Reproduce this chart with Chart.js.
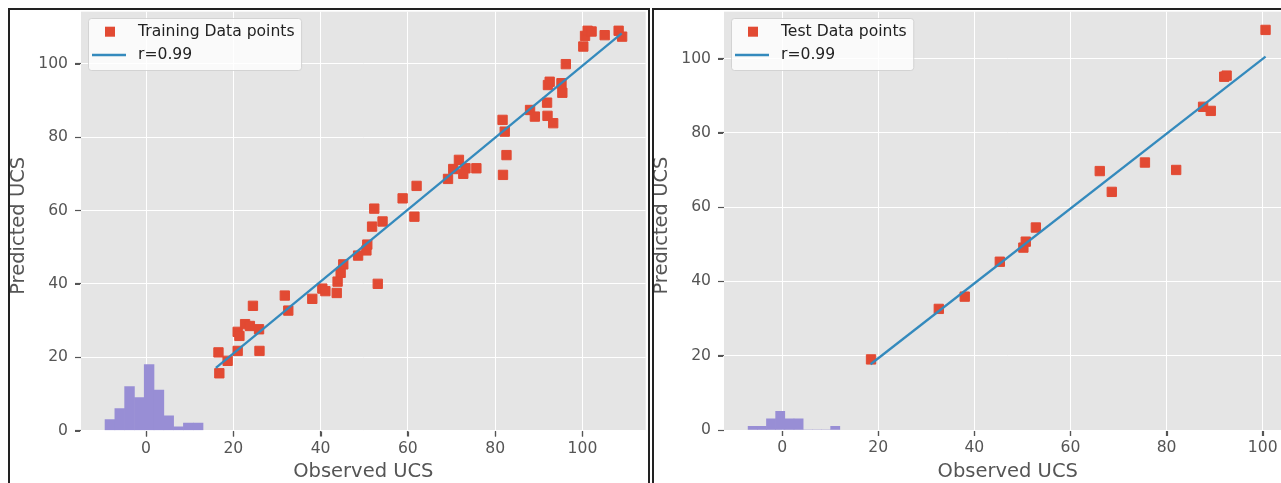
<!DOCTYPE html>
<html><head><meta charset="utf-8">
<script src="https://cdn.jsdelivr.net/npm/chart.js@4/dist/chart.umd.min.js"></script>
<style>
html,body{margin:0;padding:0;background:#fff;overflow:hidden;width:1281px;height:483px;}
.panel{position:absolute;box-sizing:border-box;border:2px solid #222;}
canvas{position:absolute;}
</style></head><body>
<div class="panel" style="left:8px;top:8px;width:642px;height:520px"></div>
<div class="panel" style="left:652px;top:8px;width:700px;height:520px"></div>
<canvas id="c1" width="638" height="473" style="left:10px;top:10px"></canvas>
<canvas id="c2" width="645" height="473" style="left:654px;top:10px"></canvas>
<script>
const xTickValues = [0, 20, 40, 60, 80, 100];
const yTickValues = [0, 20, 40, 60, 80, 100];
const xAxisLabel = 'Observed UCS';
const yAxisLabel = 'Predicted UCS';

// ---- Training panel ----
const trainPointsLabel = 'Training Data points';
const trainFitLabel = 'r=0.99';
const trainObserved = [16.8, 16.6, 18.7, 21.0, 21.0, 21.4, 22.7, 23.8, 25.9, 24.5, 26.0, 31.8, 32.6, 38.1, 40.4, 41.1, 43.7, 43.9, 44.6, 45.2,
  48.6, 50.5, 50.7, 53.1, 51.8, 54.2, 52.3, 58.8, 62.0, 61.5, 69.2, 70.4, 71.7, 73.2, 72.7, 75.7, 81.8, 82.6, 82.2, 81.7,
  88.0, 89.1, 91.9, 92.0, 93.3, 92.5, 92.1, 95.2, 95.4, 96.2, 100.2, 100.6, 101.2, 102.1, 105.1, 108.3, 109.1];
const trainPredicted = [15.6, 21.3, 19.0, 21.7, 26.9, 25.8, 29.0, 28.5, 27.6, 34.0, 21.7, 36.8, 32.7, 35.9, 38.7, 38.0, 37.5, 40.6, 43.0, 45.3,
  47.7, 49.1, 50.7, 40.0, 55.6, 57.0, 60.5, 63.3, 66.7, 58.3, 68.6, 71.3, 73.8, 71.5, 70.0, 71.5, 69.7, 75.1, 81.5, 84.7,
  87.4, 85.6, 89.4, 85.8, 83.8, 95.1, 94.2, 94.7, 92.1, 99.9, 104.7, 107.6, 109.0, 108.8, 107.8, 109.0, 107.4];
const trainFitObserved = [16.0, 109.0];
const trainFitPredicted = [17.1, 108.3];
const trainResidualBinCenters = [-8.27, -6.02, -3.78, -1.53, 0.71, 2.96, 5.20, 7.45, 9.69, 11.94];
const trainResidualCounts = [3, 6, 12, 9, 18, 11, 4, 1, 2, 2];

// ---- Test panel ----
const testPointsLabel = 'Test Data points';
const testFitLabel = 'r=0.99';
const testObserved = [18.5, 32.6, 38.0, 45.3, 50.2, 50.7, 52.8, 66.1, 68.6, 75.5, 82.0, 87.6, 89.2, 92.0, 92.5, 100.6];
const testPredicted = [19.0, 32.6, 35.9, 45.3, 49.1, 50.7, 54.5, 69.7, 64.1, 72.0, 70.0, 87.0, 85.9, 95.1, 95.4, 107.7];
const testFitObserved = [18.4, 100.6];
const testFitPredicted = [17.7, 100.5];
const testResidualBinCenters = [-6.13, -4.22, -2.31, -0.40, 1.51, 3.42, 5.33, 7.24, 9.14, 11.05];
const testResidualCounts = [1, 1, 3, 5, 3, 3, 0, 0, 0, 1];

const FONT = "'DejaVu Sans', sans-serif";
const RED = '#E24A33', BLUE = '#348ABD', PURPLE = '#988ED5';
const TICK_LEN = 6;

const bgPlugin = {
  id: 'bg',
  beforeDraw(chart) {
    const {ctx, chartArea: a} = chart;
    ctx.save();
    ctx.fillStyle = '#E5E5E5';
    ctx.fillRect(a.left, a.top, a.right - a.left, a.bottom - a.top);
    ctx.restore();
  }
};

// outward tick marks, placed through the chart's own scales
const tickMarkPlugin = {
  id: 'tickMarks',
  afterDraw(chart) {
    const {ctx, chartArea: a, scales} = chart;
    ctx.save();
    ctx.strokeStyle = '#555555';
    ctx.lineWidth = 1.2;
    ctx.beginPath();
    xTickValues.forEach(v => {
      const px = Math.round(scales.x.getPixelForValue(v)) + 0.5;
      ctx.moveTo(px, a.bottom + 1);
      ctx.lineTo(px, a.bottom + 1 + TICK_LEN - 1);
    });
    yTickValues.forEach(v => {
      const py = Math.round(scales.y.getPixelForValue(v)) + 0.5;
      ctx.moveTo(a.left - 1, py);
      ctx.lineTo(a.left - 1 - (TICK_LEN - 1), py);
    });
    ctx.stroke();
    ctx.restore();
  }
};

const titlePlugin = {
  id: 'axisTitles',
  afterDraw(chart) {
    const {ctx, chartArea: a} = chart;
    ctx.save();
    ctx.fillStyle = '#555555';
    ctx.font = '19.5px ' + FONT;
    ctx.textAlign = 'center';
    ctx.textBaseline = 'middle';
    ctx.fillText(xAxisLabel, (a.left + a.right) / 2, a.bottom + 41.7);
    ctx.translate(a.left - 62, (a.top + a.bottom) / 2 + 4.7);
    ctx.rotate(-Math.PI / 2);
    ctx.fillText(yAxisLabel, 0, 0);
    ctx.restore();
  }
};

const legendPlugin = {
  id: 'boxLegend',
  afterDraw(chart) {
    const {ctx, chartArea: a} = chart;
    const ds = chart.data.datasets;
    const pts = ds[0], fit = ds[1];
    ctx.save();
    ctx.font = '15.6px ' + FONT;
    const tw = Math.max(ctx.measureText(pts.label).width, ctx.measureText(fit.label).width);
    const x = a.left + 7, y = a.top + 6.3, w = 50 + tw + 6.5, h = 52;
    ctx.beginPath();
    ctx.roundRect(x + 0.5, y + 0.5, w, h, 3);
    ctx.fillStyle = 'rgba(255,255,255,0.8)';
    ctx.fill();
    ctx.strokeStyle = 'rgba(204,204,204,0.8)';
    ctx.lineWidth = 1;
    ctx.stroke();
    const r1 = y + 13.7, r2 = y + 37;
    ctx.fillStyle = pts.pointBackgroundColor;
    ctx.fillRect(x + 22 - 5, r1 - 5, 10, 10);
    ctx.strokeStyle = fit.borderColor;
    ctx.lineWidth = fit.borderWidth;
    ctx.beginPath();
    ctx.moveTo(x + 4, r2);
    ctx.lineTo(x + 38, r2);
    ctx.stroke();
    ctx.fillStyle = '#222';
    ctx.textAlign = 'left';
    ctx.textBaseline = 'middle';
    ctx.fillText(pts.label, x + 50, r1);
    ctx.fillText(fit.label, x + 50, r2);
    ctx.restore();
  }
};

function makeChart(id, p) {
  const tickFont = {family: FONT, size: 15.6};
  const gridOpts = () => ({color: '#ffffff', lineWidth: 1, offset: false, drawTicks: true, tickLength: TICK_LEN, tickColor: '#555555', tickWidth: 1.2});
  return new Chart(document.getElementById(id), {
    type: 'scatter',
    data: {
      datasets: [
        {
          type: 'scatter', label: p.pointsLabel,
          data: p.obs.map((v, i) => ({x: v, y: p.pred[i]})),
          pointStyle: 'rect', pointRadius: 6.6,
          pointBackgroundColor: RED, pointBorderColor: RED, pointBorderWidth: 1,
          backgroundColor: RED, borderColor: RED,
          showLine: false, order: 2
        },
        {
          type: 'line', label: p.fitLabel,
          data: p.fitX.map((v, i) => ({x: v, y: p.fitY[i]})),
          borderColor: BLUE, borderWidth: 2.3, pointRadius: 0, fill: false, tension: 0, order: 1
        },
        {
          type: 'bar', label: 'residuals',
          data: p.bins.map((v, i) => ({x: v, y: p.counts[i]})),
          backgroundColor: PURPLE, borderWidth: 0,
          barPercentage: 1, categoryPercentage: 1, grouped: false, order: 3
        }
      ]
    },
    options: {
      responsive: false, animation: false, devicePixelRatio: 1, events: [],
      layout: {padding: p.padding, autoPadding: false},
      plugins: {legend: {display: false}, tooltip: {enabled: false}},
      scales: {
        x: {
          type: 'linear', min: p.xmin, max: p.xmax, offset: false,
          afterBuildTicks: s => { s.ticks = xTickValues.map(v => ({value: v})); },
          afterFit: s => { s.height = p.xh; s.paddingLeft = 0; s.paddingRight = 0; },
          grid: gridOpts(), border: {display: false},
          ticks: {color: '#555555', font: tickFont, padding: 3, maxRotation: 0, autoSkip: false}
        },
        y: {
          type: 'linear', min: 0, max: p.ymax,
          afterBuildTicks: s => { s.ticks = yTickValues.map(v => ({value: v})); },
          afterFit: s => { s.width = p.yw; s.paddingTop = 0; s.paddingBottom = 0; },
          grid: gridOpts(), border: {display: false},
          ticks: {color: '#555555', font: tickFont, padding: 7, autoSkip: false}
        }
      }
    },
    plugins: [bgPlugin, tickMarkPlugin, titlePlugin, legendPlugin]
  });
}

makeChart('c1', {
  pointsLabel: trainPointsLabel, fitLabel: trainFitLabel,
  obs: trainObserved, pred: trainPredicted, fitX: trainFitObserved, fitY: trainFitPredicted,
  bins: trainResidualBinCenters, counts: trainResidualCounts,
  xmin: -14.9, xmax: 114.5, ymax: 114.2,
  padding: {left: 0, top: 1.7, right: 2.3, bottom: 0}, yw: 71, xh: 52.5
});
makeChart('c2', {
  pointsLabel: testPointsLabel, fitLabel: testFitLabel,
  obs: testObserved, pred: testPredicted, fitX: testFitObserved, fitY: testFitPredicted,
  bins: testResidualBinCenters, counts: testResidualCounts,
  xmin: -12.1, xmax: 106.0, ymax: 112.6,
  padding: {left: 0, top: 1.7, right: 7.5, bottom: 0}, yw: 70, xh: 53
});
</script>
</body></html>
